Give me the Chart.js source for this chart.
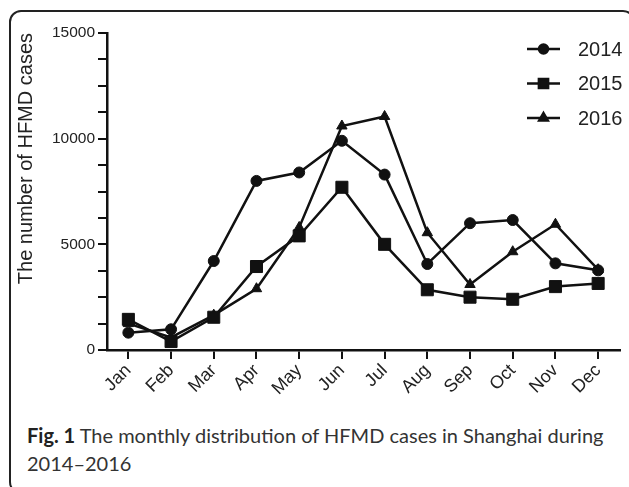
<!DOCTYPE html>
<html>
<head>
<meta charset="utf-8">
<script src="https://cdn.jsdelivr.net/npm/chart.js@4/dist/chart.umd.min.js"></script>
<style>
  html, body { margin: 0; padding: 0; background: #fff; overflow: hidden; }
  body { width: 629px; height: 487px; position: relative; }
  .frame {
    position: absolute; left: 9px; top: 10px; width: 626px; height: 484px;
    border: 2px solid #222; border-radius: 12px; box-sizing: border-box;
  }
  .chart-box { position: absolute; left: 0; top: 0; width: 629px; height: 414px; }
  .caption {
    position: absolute; left: 27px; top: 421px; width: 596px;
    font-family: Lato, sans-serif; font-size: 20px; line-height: 28px; color: #333;
  }
  .caption b { font-weight: 700; color: #222; }
</style>
</head>
<body>
<div class="frame"></div>
<div class="chart-box"><canvas id="hfmdChart"></canvas></div>
<div class="caption"><b>Fig. 1</b> The monthly distribution of HFMD cases in Shanghai during 2014–2016</div>
<script>
const months = ["Jan", "Feb", "Mar", "Apr", "May", "Jun", "Jul", "Aug", "Sep", "Oct", "Nov", "Dec"];
const cases2014 = [820, 980, 4210, 8000, 8400, 9900, 8300, 4070, 6000, 6150, 4100, 3770];
const cases2015 = [1450, 400, 1550, 3950, 5400, 7700, 5000, 2850, 2500, 2400, 3000, 3150];
const cases2016 = [1250, 600, 1650, 2900, 5800, 10600, 11050, 5550, 3100, 4650, 5950, 3800];
const yearLabels = ["2014", "2015", "2016"];
const markerStyles = ["circle", "rect", "triangle"];
const markerSizes = [5.5, 8.5, 6];
const legendMarkerSizes = [4.5, 6.5, 5];

const INK = "#111";
const FONT = "'Liberation Sans', Arial, sans-serif";

// legend drawn inside the plot area, top right
const insideLegend = {
  id: "insideLegend",
  afterDraw(chart) {
    const ctx = chart.ctx;
    ctx.save();
    ctx.font = "20px " + FONT;
    ctx.textBaseline = "middle";
    chart.data.datasets.forEach((ds, i) => {
      const y = 49 + i * 34.5;
      ctx.strokeStyle = INK;
      ctx.lineWidth = 2.5;
      ctx.beginPath();
      ctx.moveTo(527, y);
      ctx.lineTo(560, y);
      ctx.stroke();
      ctx.fillStyle = INK;
      Chart.helpers.drawPoint(ctx, { pointStyle: ds.pointStyle, radius: legendMarkerSizes[i], borderWidth: 1 }, 543.5, y);
      ctx.fillStyle = "#222";
      ctx.fillText(ds.label, 578, y + 1);
    });
    ctx.restore();
  }
};

const seriesData = [cases2014, cases2015, cases2016];

new Chart(document.getElementById("hfmdChart"), {
  type: "line",
  data: {
    labels: months,
    datasets: seriesData.map((values, i) => ({
      label: yearLabels[i],
      data: values,
      borderColor: INK,
      backgroundColor: INK,
      borderWidth: 2.5,
      pointStyle: markerStyles[i],
      pointRadius: markerSizes[i],
      pointHoverRadius: markerSizes[i],
      pointBorderWidth: 1,
      tension: 0
    }))
  },
  options: {
    responsive: true,
    maintainAspectRatio: false,
    animation: false,
    layout: { padding: { left: 14, right: 5, top: 33, bottom: 0 } },
    plugins: {
      legend: { display: false },
      tooltip: { enabled: false }
    },
    scales: {
      x: {
        offset: true,
        grid: { display: true, drawOnChartArea: false, drawTicks: true, tickLength: 9, color: INK, lineWidth: 2 },
        border: { display: true, color: INK, width: 2.5 },
        ticks: {
          color: "#222",
          font: { family: FONT, size: 18 },
          minRotation: 45, maxRotation: 45, padding: 1, autoSkip: false
        },
        afterFit(scale) { scale.height = 64; }
      },
      // inner axis: line plus every tick mark (no labels, so nothing gets skipped)
      y: {
        min: 0,
        max: 15000,
        weight: 0,
        grid: { display: true, drawOnChartArea: false, drawTicks: true, tickLength: 9, color: INK, lineWidth: 2 },
        border: { display: true, color: INK, width: 2.5 },
        ticks: { stepSize: 1250, maxTicksLimit: 20, display: false },
        afterFit(scale) { scale.width = 10; }
      },
      // outer axis: labels every 5000 and the title
      yLabels: {
        type: "linear",
        position: "left",
        min: 0,
        max: 15000,
        weight: 1,
        grid: { display: false, drawTicks: false, tickLength: 0 },
        border: { display: false },
        ticks: {
          stepSize: 5000,
          color: "#222",
          padding: 2,
          font: { family: FONT, size: 15.5 },
          callback: v => String(v)
        },
        title: {
          display: true,
          text: "The number of HFMD cases",
          align: "end",
          color: "#222",
          padding: { top: 0, bottom: 0 },
          font: { family: FONT, size: 20 }
        },
        afterFit(scale) { scale.width = 83; }
      }
    }
  },
  plugins: [insideLegend]
});
</script>
</body>
</html>
